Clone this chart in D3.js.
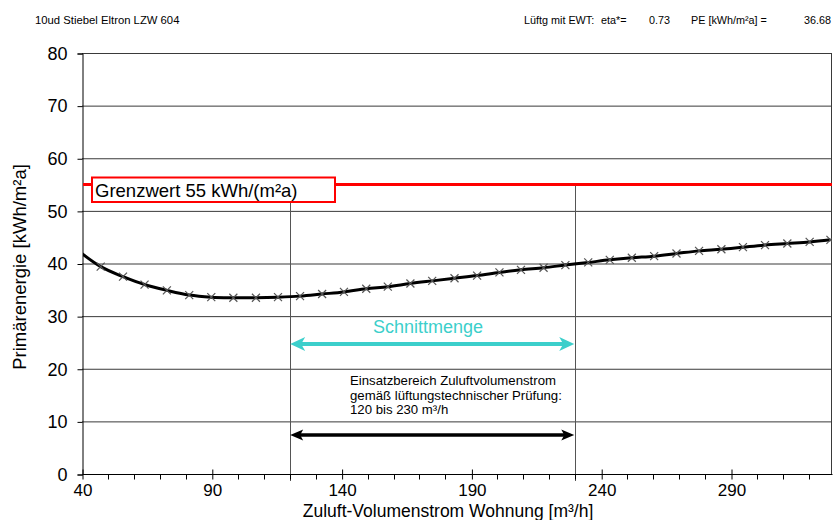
<!DOCTYPE html>
<html>
<head>
<meta charset="utf-8">
<script src="https://cdn.jsdelivr.net/npm/d3@7"></script>
<style>
  html, body { margin: 0; padding: 0; background: #fff; }
  svg { display: block; font-family: "Liberation Sans", Arial, sans-serif; }
</style>
</head>
<body>
<svg id="chart" width="833" height="520"></svg>
<script>
// ---- data ----
const xTicks = [40, 90, 140, 190, 240, 290];
const xMinorTicks = [50, 60, 70, 80, 100, 110, 120, 130, 150, 160, 170, 180, 200, 210, 220, 230, 250, 260, 270, 280, 300, 310, 320];
const yTicks = [0, 10, 20, 30, 40, 50, 60, 70, 80];
const flowRates = [38.6, 47.2, 55.8, 64.1, 72.7, 81.3, 89.8, 98.3, 107.0, 115.5, 124.0, 132.5, 140.9, 149.5, 157.8, 166.5, 174.9, 183.5, 192.2, 200.8, 209.1, 217.8, 226.2, 235.0, 243.3, 251.8, 260.4, 269.0, 277.7, 286.3, 294.6, 303.1, 311.7, 320.3, 328.3];
const primaryEnergy = [42.4, 39.4, 37.5, 36.0, 34.9, 34.0, 33.6, 33.5, 33.5, 33.6, 33.8, 34.2, 34.6, 35.2, 35.6, 36.2, 36.7, 37.2, 37.7, 38.3, 38.8, 39.2, 39.7, 40.2, 40.7, 41.1, 41.4, 41.9, 42.4, 42.7, 43.1, 43.5, 43.8, 44.1, 44.5];
const limitValue = 55;
const limitLabel = "Grenzwert 55 kWh/(m²a)";
const rangeBounds = [120, 230];
const intersectionLabel = "Schnittmenge";
const rangeLabelLines = ["Einsatzbereich Zuluftvolumenstrom", "gemäß lüftungstechnischer Prüfung:", "120 bis 230 m³/h"];
const titleLeft = "10ud Stiebel Eltron LZW 604";
const headerItems = ["Lüftg mit EWT:", "eta*=", "0.73", "PE [kWh/m²a] =", "36.68"];
const xTitle = "Zuluft-Volumenstrom Wohnung [m³/h]";
const yTitle = "Primärenergie [kWh/m²a]";

// ---- layout ----
const svg = d3.select("#chart");
const pLeft = 82, pRight = 832, pTop = 53, pBottom = 474;
const x = d3.scaleLinear().domain([40, 290]).range([pLeft, 731]);
const y = d3.scaleLinear().domain([0, 80]).range([pBottom, pTop]);
const cyan = "#3ccfcb";

// header
svg.append("text").attr("x", 35).attr("y", 24).attr("font-size", 11.3).attr("fill", "#000").text(titleLeft);
const headerX = [524, 601, 649, 691, 831];
const headerAnchor = ["start", "start", "start", "start", "end"];
headerItems.forEach((t, i) => {
  svg.append("text").attr("x", headerX[i]).attr("y", 24).attr("font-size", 10.8)
    .attr("text-anchor", headerAnchor[i]).attr("fill", "#000").text(t);
});

// horizontal gridlines
svg.append("g").selectAll("line").data(yTicks.filter(d => d > 0)).join("line")
  .attr("x1", pLeft).attr("x2", pRight)
  .attr("y1", d => y(d) + 0.5).attr("y2", d => y(d) + 0.5)
  .attr("stroke", "#3a3a3a").attr("stroke-width", 1);

// right border
svg.append("line").attr("x1", pRight - 0.5).attr("x2", pRight - 0.5).attr("y1", pTop).attr("y2", pBottom)
  .attr("stroke", "#3a3a3a").attr("stroke-width", 1);

// vertical range lines
svg.append("g").selectAll("line").data(rangeBounds).join("line")
  .attr("x1", d => Math.round(x(d)) + 0.5).attr("x2", d => Math.round(x(d)) + 0.5)
  .attr("y1", y(limitValue)).attr("y2", pBottom + 7)
  .attr("stroke", "#555").attr("stroke-width", 1);

// y axis
const yAxis = d3.axisLeft(y).tickValues(yTicks).tickSize(5).tickPadding(10).tickFormat(d3.format("d"));
const gy = svg.append("g").attr("transform", `translate(${pLeft + 0.5},0.5)`).call(yAxis);
gy.select(".domain").attr("stroke", "#000");
gy.selectAll(".tick line").attr("stroke", "#000");
gy.selectAll(".tick text").attr("font-size", 18).attr("fill", "#000").attr("font-family", "Liberation Sans, Arial, sans-serif");

// x axis
const xAxis = d3.axisBottom(x).tickValues(xTicks).tickSizeInner(-5).tickSizeOuter(0).tickPadding(18).tickFormat(d3.format("d"));
const gx = svg.append("g").attr("transform", `translate(0.5,${pBottom + 0.5})`).call(xAxis);
gx.select(".domain").attr("stroke", "#000").attr("d", `M${pLeft},0H${pRight}`);
gx.selectAll(".tick line").attr("stroke", "#000").attr("y1", 5).attr("y2", -5);
gx.selectAll(".tick text").attr("font-size", 17).attr("fill", "#000").attr("font-family", "Liberation Sans, Arial, sans-serif").attr("dy", "0.71em").attr("y", 9);
// minor ticks
gx.append("g").selectAll("line").data(xMinorTicks).join("line")
  .attr("x1", d => Math.round(x(d))).attr("x2", d => Math.round(x(d)))
  .attr("y1", 0).attr("y2", 5).attr("stroke", "#000");

// axis titles
svg.append("text").attr("x", 448).attr("y", 516.5).attr("text-anchor", "middle")
  .attr("font-size", 17.5).attr("fill", "#000").text(xTitle);
svg.append("text").attr("transform", `translate(26,${267}) rotate(-90)`).attr("text-anchor", "middle")
  .attr("font-size", 18.5).attr("fill", "#000").text(yTitle);

// clip
svg.append("clipPath").attr("id", "plotclip").append("rect")
  .attr("x", pLeft + 1).attr("y", pTop).attr("width", pRight - pLeft - 1).attr("height", pBottom - pTop);

// data line
const pts = flowRates.map((f, i) => [f, primaryEnergy[i]]);
const line = d3.line().x(d => x(d[0])).y(d => y(d[1])).curve(d3.curveCatmullRom.alpha(0.5));
const plot = svg.append("g").attr("clip-path", "url(#plotclip)");
plot.append("path").datum(pts).attr("d", line).attr("fill", "none").attr("stroke", "#000").attr("stroke-width", 3);
plot.append("g").selectAll("path").data(pts).join("path")
  .attr("d", d => { const cx = x(d[0]), cy = y(d[1]), s = 4; return `M${cx - s},${cy - s}L${cx + s},${cy + s}M${cx - s},${cy + s}L${cx + s},${cy - s}`; })
  .attr("stroke", "#555").attr("stroke-width", 1.2).attr("fill", "none");

// limit line
svg.append("line").attr("x1", pLeft + 1).attr("x2", pRight).attr("y1", y(limitValue)).attr("y2", y(limitValue))
  .attr("stroke", "#ff0000").attr("stroke-width", 3);

// limit label box
const lb = svg.append("g");
lb.append("rect").attr("x", 92).attr("y", 177.5).attr("width", 243).attr("height", 24.5)
  .attr("fill", "#fff").attr("stroke", "#ff0000").attr("stroke-width", 2);
lb.append("text").attr("x", 95).attr("y", 197).attr("font-size", 18.5).attr("fill", "#000").text(limitLabel);

// arrows
function doubleArrow(yv, color, width, headLen, headHalf, notch) {
  const x1 = x(rangeBounds[0]) + 0.5, x2 = x(rangeBounds[1]) - 1;
  const g = svg.append("g");
  g.append("line").attr("x1", x1 + headLen * 0.6).attr("x2", x2 - headLen * 0.6).attr("y1", yv).attr("y2", yv)
    .attr("stroke", color).attr("stroke-width", width);
  g.append("path").attr("d", `M${x1},${yv}L${x1 + headLen},${yv - headHalf}L${x1 + headLen - notch},${yv}L${x1 + headLen},${yv + headHalf}Z`).attr("fill", color);
  g.append("path").attr("d", `M${x2},${yv}L${x2 - headLen},${yv - headHalf}L${x2 - headLen + notch},${yv}L${x2 - headLen},${yv + headHalf}Z`).attr("fill", color);
}
doubleArrow(344, cyan, 4, 15, 7, 4);
doubleArrow(435, "#000", 3.5, 13, 5.5, 3);

svg.append("text").attr("x", 428).attr("y", 333).attr("text-anchor", "middle")
  .attr("font-size", 18).attr("fill", cyan).text(intersectionLabel);

const rl = svg.append("text").attr("font-size", 13.2).attr("fill", "#000");
rangeLabelLines.forEach((t, i) => {
  rl.append("tspan").attr("x", 350).attr("y", 385 + i * 14.7).text(t);
});
</script>
</body>
</html>
